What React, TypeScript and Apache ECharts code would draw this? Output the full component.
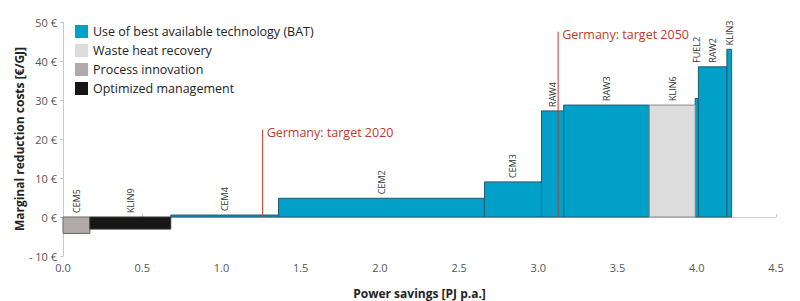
import React, { useEffect, useRef } from "react";
import * as echarts from "echarts";

const measures = ["CEM5", "KLIN9", "CEM4", "CEM2", "CEM3", "RAW4", "RAW3", "KLIN6", "FUEL2", "RAW2", "KLIN3"];
const savings = [0.17, 0.51, 0.68, 1.3, 0.36, 0.14, 0.54, 0.29, 0.02, 0.18, 0.03];
const costs = [-4.2, -3.1, 0.5, 4.8, 9.0, 27.2, 28.7, 28.7, 30.4, 38.5, 43.0];
const measureCategory = [2, 3, 0, 0, 0, 0, 0, 1, 0, 0, 0];
const categories = [
  "Use of best available technology (BAT)",
  "Waste heat recovery",
  "Process innovation",
  "Optimized management",
];
const targetLabels = ["Germany: target 2020", "Germany: target 2050"];
const targetSavings = [1.26, 3.125];
const targetLineTops = [22.4, 47.5];
const xTicks = [0, 0.5, 1, 1.5, 2, 2.5, 3, 3.5, 4, 4.5];
const yTicks = [-10, 0, 10, 20, 30, 40, 50];

const catColors = ["#00a0c8", "#dcdcdc", "#b2aaaa", "#161616"];
const catStroke = ["#24586c", "#8a8a8a", "#666666", "#333333"];
const FONT = "'Open Sans', 'Noto Sans', sans-serif";

export default function App() {
  const ref = useRef<HTMLDivElement>(null);
  useEffect(() => {
    if (!ref.current) return;
    const chart = echarts.init(ref.current, null, { renderer: "svg" });
    const starts: number[] = [];
    let acc = 0;
    for (const s of savings) {
      starts.push(acc);
      acc += s;
    }
    const rows = measures.map((m, i) => [starts[i], starts[i] + savings[i], costs[i], i]);

    const renderBar = (params: any, api: any) => {
      const i = api.value(3);
      const s = api.value(0);
      const e = api.value(1);
      const v = api.value(2);
      const p0 = api.coord([s, Math.max(v, 0)]);
      const p1 = api.coord([e, Math.min(v, 0)]);
      let anchor = Math.max(v, 0);
      if (savings[i] < 0.025 && i + 1 < costs.length && costs[i + 1] > v) anchor = costs[i + 1];
      const pa = api.coord([(s + e) / 2, anchor]);
      const cat = measureCategory[i];
      return {
        type: "group",
        children: [
          {
            type: "rect",
            shape: { x: p0[0], y: p0[1], width: p1[0] - p0[0], height: p1[1] - p0[1] },
            style: { fill: catColors[cat], stroke: catStroke[cat], lineWidth: 1 },
          },
          {
            type: "text",
            x: pa[0],
            y: pa[1] - 4,
            rotation: Math.PI / 2,
            style: {
              text: measures[i],
              fill: "#333",
              font: `9px ${FONT}`,
              align: "left",
              verticalAlign: "middle",
            },
          },
        ],
      };
    };

    const catSeries = categories.map((c, ci) => ({
      type: "custom",
      name: c,
      xAxisIndex: 0,
      itemStyle: { color: catColors[ci] },
      renderItem: renderBar,
      encode: { x: [0, 1], y: 2 },
      data: rows.filter((r) => measureCategory[r[3] as number] === ci),
      z: 3,
    }));

    const targetSeries = {
      type: "custom",
      name: "targets",
      xAxisIndex: 0,
      renderItem: (params: any, api: any) => {
        const i = api.value(2);
        const pb = api.coord([api.value(0), 0]);
        const pt = api.coord([api.value(0), api.value(1)]);
        return {
          type: "group",
          children: [
            {
              type: "line",
              shape: { x1: pb[0], y1: pb[1], x2: pt[0], y2: pt[1] },
              style: { stroke: "#c0392b", lineWidth: 1 },
            },
            {
              type: "text",
              x: pt[0] + 4,
              y: pt[1] + 3,
              style: {
                text: targetLabels[i],
                fill: "#c0392b",
                font: `12.5px ${FONT}`,
                align: "left",
                verticalAlign: "middle",
              },
            },
          ],
        };
      },
      encode: { x: 0, y: 1 },
      data: targetSavings.map((t, i) => [t, targetLineTops[i], i]),
      z: 5,
    };

    chart.setOption({
      animation: false,
      textStyle: { fontFamily: FONT },
      grid: { left: 63, right: 24, top: 22, bottom: 45, outerBoundsMode: "none" },
      legend: {
        data: categories,
        orient: "vertical",
        left: 70,
        top: 20,
        itemWidth: 13,
        itemHeight: 13,
        itemGap: 6,
        icon: "rect",
        textStyle: { fontSize: 12.5, color: "#222", fontFamily: FONT },
      },
      xAxis: [
        {
          type: "value",
          min: xTicks[0],
          max: xTicks[xTicks.length - 1],
          interval: 0.5,
          position: "bottom",
          axisLine: { show: false, onZero: false },
          axisTick: { show: false },
          splitLine: { show: false },
          axisLabel: {
            color: "#555",
            fontSize: 11,
            margin: 6,
            formatter: (v: number) => v.toFixed(1),
          },
          name: "Power savings [PJ p.a.]",
          nameLocation: "middle",
          nameGap: 31,
          nameMoveOverlap: false,
          nameTextStyle: { fontWeight: "bold", fontSize: 12, color: "#222" },
        },
        {
          type: "value",
          min: xTicks[0],
          max: xTicks[xTicks.length - 1],
          interval: 0.5,
          position: "bottom",
          axisLine: { show: true, onZero: true, lineStyle: { color: "#cccccc" } },
          axisTick: { show: true, inside: true, length: 3, lineStyle: { color: "#cccccc" } },
          axisLabel: { show: false },
          splitLine: { show: false },
        },
      ],
      yAxis: {
        type: "value",
        min: yTicks[0],
        max: yTicks[yTicks.length - 1],
        interval: 10,
        axisLine: { show: true, lineStyle: { color: "#c8c8c8" } },
        axisTick: { show: true, length: 3, lineStyle: { color: "#c8c8c8" } },
        splitLine: { show: false },
        axisLabel: {
          color: "#555",
          fontSize: 11,
          margin: 6,
          formatter: (v: number) => (v < 0 ? `- ${Math.abs(v)} €` : `${v} €`),
        },
        name: "Marginal reduction costs [€/GJ]",
        nameLocation: "middle",
        nameGap: 38,
        nameMoveOverlap: false,
        nameTextStyle: { fontWeight: "bold", fontSize: 12, color: "#222" },
      },
      series: [...catSeries, targetSeries],
    });
    return () => chart.dispose();
  }, []);
  return (
    <div
      ref={ref}
      style={{ position: "absolute", left: 0, top: 0, width: 800, height: 301 }}
    />
  );
}
